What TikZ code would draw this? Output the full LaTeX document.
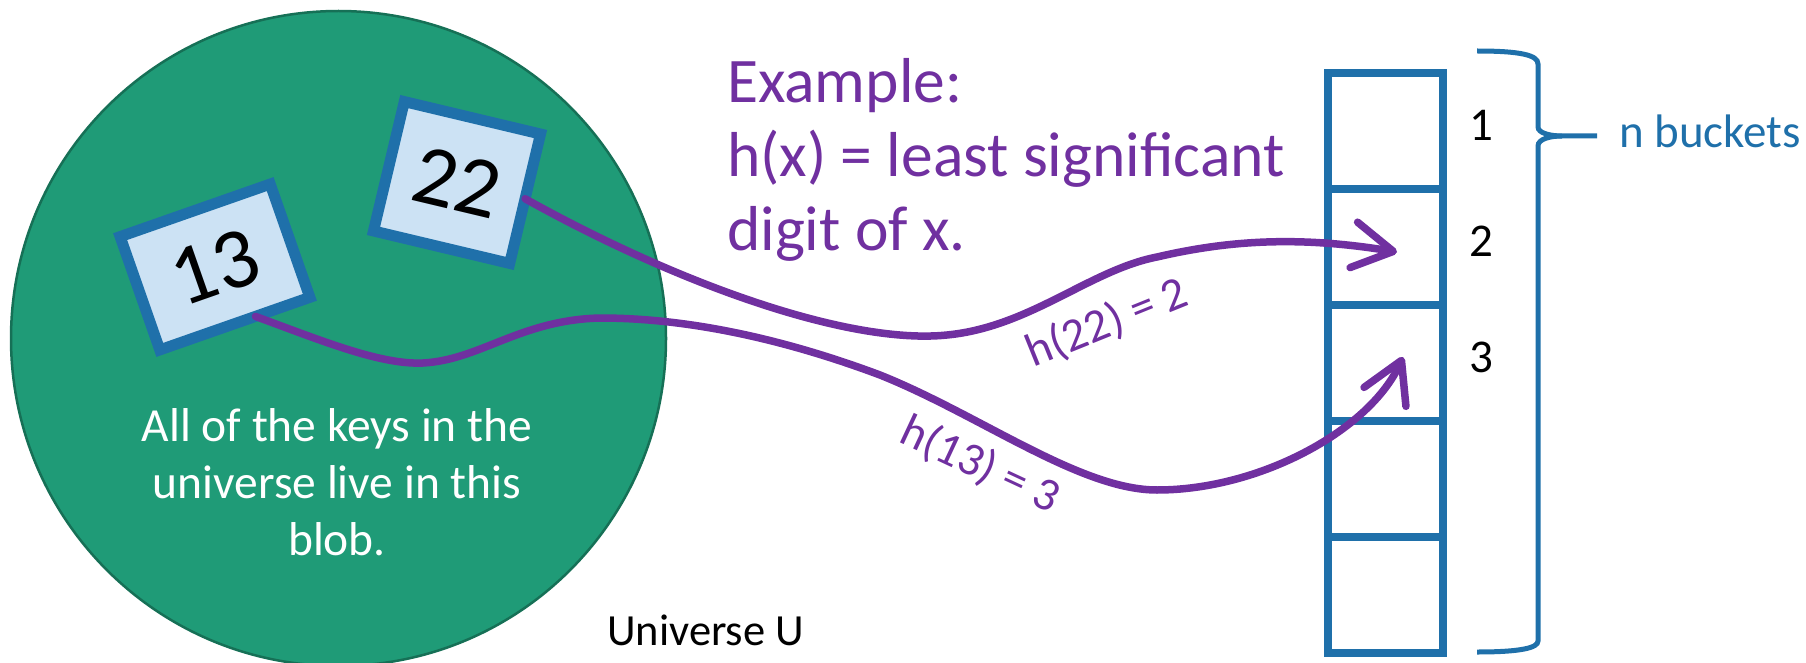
\documentclass[tikz,border=0pt]{standalone}
\usepackage{fontspec}
\setmainfont{Carlito}
\usetikzlibrary{arrows.meta, positioning}

\definecolor{blobgreen}{RGB}{31,155,119}
\definecolor{blobedge}{RGB}{22,112,86}
\definecolor{keyblue}{RGB}{31,112,170}
\definecolor{keyfill}{RGB}{204,226,244}
\definecolor{hashpurple}{RGB}{112,48,160}

\begin{document}
\begin{tikzpicture}[
    x=1pt, y=-1pt,
    blob/.style={circle, draw=blobedge, line width=2.5pt, fill=blobgreen,
                 minimum size=655pt, inner sep=0pt},
    key/.style={draw=keyblue, line width=11pt, fill=keyfill, inner sep=0pt,
                outer sep=0pt, font=\fontsize{86}{86}\selectfont},
    bucket/.style={draw=keyblue, line width=8pt, minimum width=115pt,
                   minimum height=116pt, inner sep=0pt, outer sep=0pt},
    idx/.style={inner sep=0pt, font=\fontsize{47}{47}\selectfont},
    hlabel/.style={inner sep=0pt, text=hashpurple, font=\fontsize{47}{47}\selectfont},
    hashar/.style={hashpurple, line width=7.5pt, line cap=round,
                   -{Straight Barb[length=40pt, width=46pt, round]}}
]
\useasboundingbox (0,0) rectangle (1806,663);
% the universe of keys
\node[blob] (univ) at (338.5,338.5) {};
\node[align=center, text=white, font=\fontsize{47.5}{57}\selectfont] (univtxt)
     at (337,482) {All of the keys in the\\universe live in this\\blob.};
\node[anchor=base west, inner sep=0pt, font=\fontsize{44.5}{44.5}\selectfont] (univname)
     at (607,645) {Universe U};
% two keys
\node[key, minimum width=140pt, minimum height=133pt, rotate=-13.4] (k22) at (457,182.5) {22};
\node[key, minimum width=159pt, minimum height=120pt, rotate=19.3] (k13) at (215,267) {13};
% hash function text
\node[anchor=north west, align=left, inner sep=0pt, text=hashpurple,
      font=\fontsize{63.5}{74}\selectfont] (example) at (727,58)
     {Example:\\h(x) = least significant\\digit of x.};
% the table of buckets
\foreach \i in {1,...,5}
   \node[bucket] (b\i) at (1385.5,{15+116*\i}) {};
\foreach \i in {1,2,3}
   \node[idx, right=26pt of b\i, yshift=5.5pt] (n\i) {\i};
% brace
\draw[keyblue, line width=5pt] (1477,51) .. controls (1520,51) and (1538,55) .. (1538,64)
   -- (1538,127) .. controls (1538,133) and (1550,136) .. (1562,136) -- (1597,136);
\draw[keyblue, line width=5pt] (1562,136) .. controls (1550,136) and (1538,139) .. (1538,146)
   -- (1538,641) .. controls (1538,648) and (1520,652) .. (1477,652);
\node[anchor=base west, inner sep=0pt, text=keyblue, font=\fontsize{47}{47}\selectfont]
     (nbk) at (1619,148) {n buckets};
% hashing arrows
\draw[hashar] (k22.east) .. controls (680,285) and (850,345) .. (947,335)
   .. controls (1030,327) and (1090,270) .. (1157,257)
   .. controls (1230,240) and (1300,236) .. ([xshift=11.5pt, yshift=-5pt]b2.center);
\draw[hashar] (k13.290) .. controls (320,340) and (380,365) .. (423,363)
   .. controls (480,360) and (520,320) .. (600,318)
   .. controls (700,318) and (800,345) .. (880,375)
   .. controls (980,415) and (1080,490) .. (1157,490)
   .. controls (1260,490) and (1370,430) .. ([xshift=17.5pt, yshift=6pt]b3.center);
\node[hlabel, rotate=22] (h22) at (1107,323) {h(22) = 2};
\node[hlabel, rotate=-25] (h13) at (980,465) {h(13) = 3};
\end{tikzpicture}
\end{document}
